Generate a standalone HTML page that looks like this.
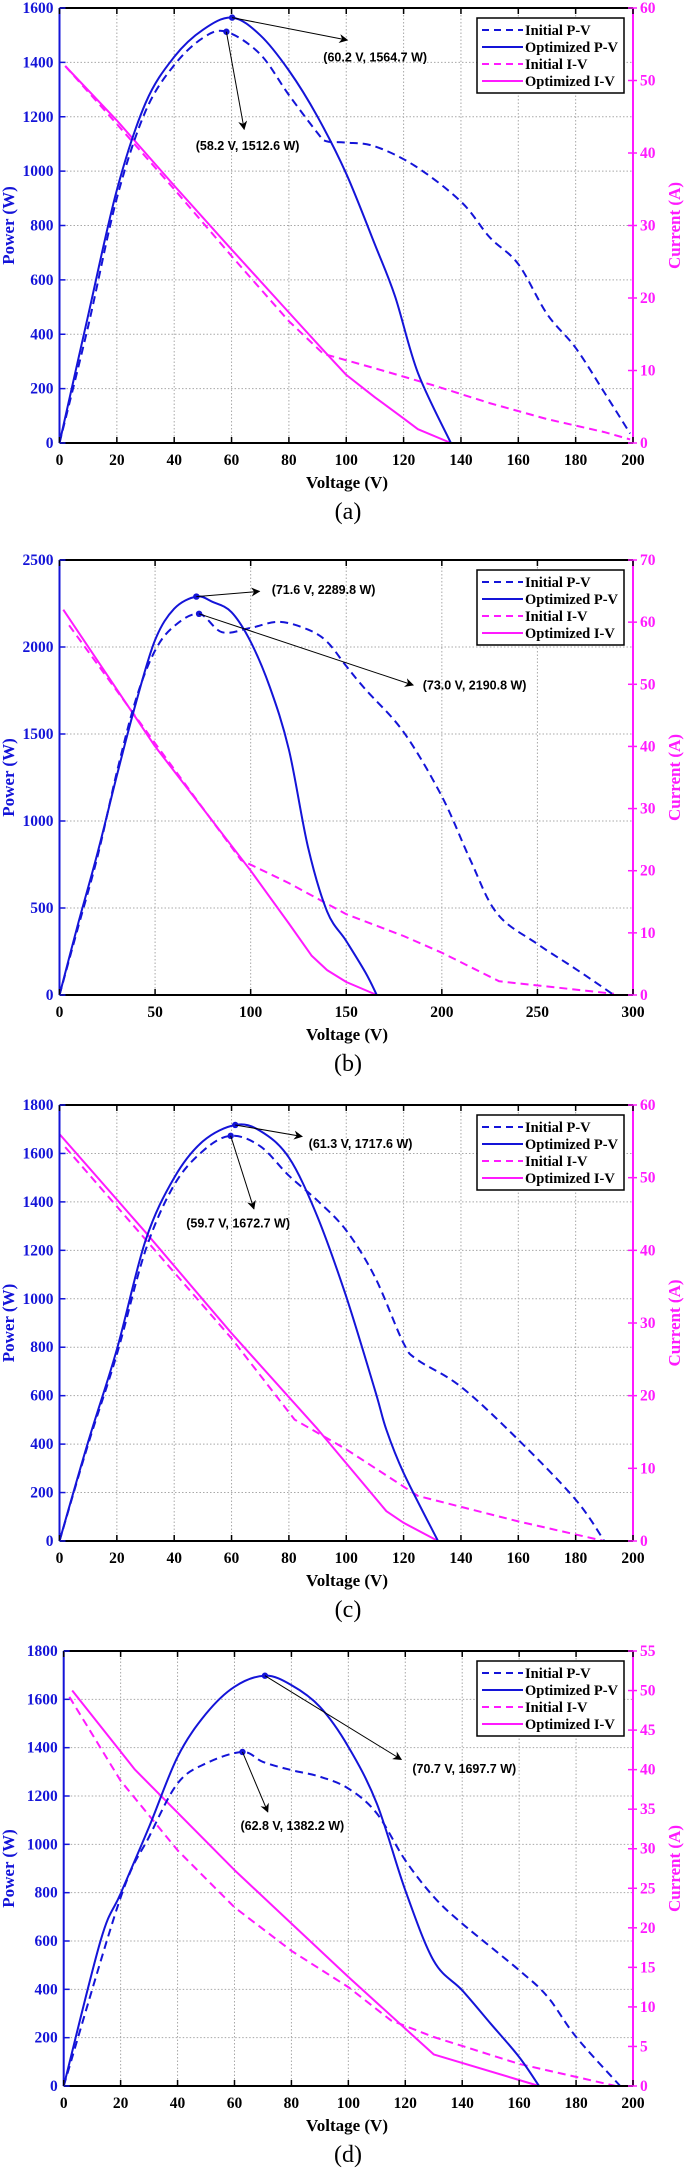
<!DOCTYPE html>
<html><head><meta charset="utf-8"><style>
html,body{margin:0;padding:0;background:#fff}
svg{display:block}
text{font-family:"Liberation Serif",serif}
</style></head><body>
<svg id="chart" width="685" height="2170" viewBox="0 0 685 2170" xmlns="http://www.w3.org/2000/svg"></svg>
<script>
// ---- Panel (a) data ----
const aOptPV_V=[0,10,20,30,40,50,60.2,70,80,90,100,110,117,125,136.5];
const aOptPV_P=[0,470,930,1250,1420,1520,1564.7,1500,1370,1200,990,730,540,258,0];
const aInitPV_V=[0,10,20,30,40,50,58.2,70,80,90,93,100,110,124,140,150,160,170,180,190,199];
const aInitPV_P=[0,430,900,1220,1390,1490,1512.6,1430,1280,1140,1110,1105,1091,1019,888,757,658,475,350,186,35];
const aInitIV_V=[2,20,40,60,80,92,110,130,150,170,190,199];
const aInitIV_I=[52,44,35,25.8,16.8,12.3,10.3,8,5.5,3.3,1.5,0.5];
const aOptIV_V=[2,20,40,60,80,92,100,110,120,125,136.5];
const aOptIV_I=[52,44.5,35.5,26.7,18,12.8,9.4,6.3,3.4,1.9,0];
// ---- Panel (b) data ----
const bOptPV_V=[0,10,20,30,40,50,60,71.6,80,90,100,110,120,130,140,150,160,166];
const bOptPV_P=[0,420,820,1260,1680,2040,2220,2289.8,2260,2200,2030,1770,1410,850,480,310,130,0];
const bInitPV_V=[0,10,20,30,40,50,60,73,85,100,115,130,140,150,160,180,200,215,229,250,270,290];
const bInitPV_P=[0,400,800,1280,1700,1980,2120,2190.8,2085,2110,2145,2100,2030,1890,1757,1511,1142,774,467,293,150,0];
const bInitIV_V=[5,50,95,120,150,180,200,230,260,290];
const bInitIV_I=[59.5,40.5,21.7,18,13,9.5,6.8,2.2,1.2,0.2];
const bOptIV_V=[2,50,100,120,132,140,150,166];
const bOptIV_I=[62,40,20,11.5,6.3,4,2.1,0];
// ---- Panel (c) data ----
const cOptPV_V=[0,10,20,30,40,50,61.3,70,80,90,100,110,114,120,132];
const cOptPV_P=[0,410,790,1240,1500,1650,1717.6,1693,1583,1337,1008,624,459,281,0];
const cInitPV_V=[0,10,20,30,40,50,59.7,70,80,90,100,110,120,125,140,160,180,190];
const cInitPV_P=[0,400,770,1200,1470,1610,1672.7,1630,1508,1405,1282,1090,816,747,637,418,171,0];
const cOptIV_V=[0,30,60,90,114,120,132];
const cOptIV_I=[56,42.5,28.6,15.4,4.1,2.5,0];
const cInitIV_V=[2,60,82,100,125,160,190];
const cInitIV_I=[54.2,27.9,16.7,12.6,6.2,2.7,0];
// ---- Panel (d) data ----
const dOptPV_V=[0,13,20,30,40,50,60,70.7,80,90,100,110,120,130,140,150,160,167];
const dOptPV_P=[0,603,796,1072,1362,1540,1652,1697.7,1659,1569,1404,1169,810,518,396,258,120,0];
const dInitPV_V=[0,20,30,40,50,62.8,70,80,90,100,110,120,130,140,160,170,180,195.5];
const dInitPV_P=[0,780,1031,1252,1335,1382.2,1341,1307,1280,1231,1128,934,783,672,479,369,203,0];
const dOptIV_V=[3,25,60,100,130,167];
const dOptIV_I=[50,40,27.3,13.8,4.0,0];
const dInitIV_V=[2,20,40,60,80,100,115,130,160,194];
const dInitIV_I=[49.2,38.6,29.8,22.6,17.1,12.5,8.3,6.2,2.8,0];
// ---- axis tick arrays ----
const aXTicks=[0,20,40,60,80,100,120,140,160,180,200], aPTicks=[0,200,400,600,800,1000,1200,1400,1600], aITicks=[0,10,20,30,40,50,60];
const bXTicks=[0,50,100,150,200,250,300], bPTicks=[0,500,1000,1500,2000,2500], bITicks=[0,10,20,30,40,50,60,70];
const cXTicks=[0,20,40,60,80,100,120,140,160,180,200], cPTicks=[0,200,400,600,800,1000,1200,1400,1600,1800], cITicks=[0,10,20,30,40,50,60];
const dXTicks=[0,20,40,60,80,100,120,140,160,180,200], dPTicks=[0,200,400,600,800,1000,1200,1400,1600,1800], dITicks=[0,5,10,15,20,25,30,35,40,45,50,55];
// ---- annotation arrays: [peakV, peakP, arrowV, arrowP, textV, textP, label]
const aAnn=[[60.2,1564.7,100.4,1482,92,1419,"(60.2 V, 1564.7 W)"],[58.2,1512.6,64.4,1154,47.5,1094,"(58.2 V, 1512.6 W)"]];
const bAnn=[[71.6,2289.8,104.6,2320,111,2330,"(71.6 V, 2289.8 W)"],[73.0,2190.8,185,1781,190,1781,"(73.0 V, 2190.8 W)"]];
const cAnn=[[61.3,1717.6,84.6,1670,86.9,1642,"(61.3 V, 1717.6 W)"],[59.7,1672.7,67.8,1371,44.2,1312,"(59.7 V, 1672.7 W)"]];
const dAnn=[[70.7,1697.7,118.6,1351,122.5,1314,"(70.7 V, 1697.7 W)"],[62.8,1382.2,71.7,1134,62.1,1077,"(62.8 V, 1382.2 W)"]];

const NS="http://www.w3.org/2000/svg";
const svg=document.getElementById('chart');
const BLUE="#1414d8", MAG="#ff1aff";
function mk(tag,attrs,parent){const e=document.createElementNS(NS,tag);for(const k in attrs)e.setAttribute(k,attrs[k]);(parent||svg).appendChild(e);return e;}

const defs=mk('defs',{});
const mkr=mk('marker',{id:'arr',viewBox:'0 0 10 10',refX:'9',refY:'5',markerWidth:'9',markerHeight:'9',orient:'auto',markerUnits:'userSpaceOnUse'},defs);
mk('path',{d:'M0,0 L10,5 L0,10 L3,5 Z',fill:'#000'},mkr);

function smoothPath(P){
  let d='M'+P[0][0].toFixed(1)+','+P[0][1].toFixed(1);
  for(let i=0;i<P.length-1;i++){
    const p0=P[Math.max(0,i-1)],p1=P[i],p2=P[i+1],p3=P[Math.min(P.length-1,i+2)];
    const c1x=p1[0]+(p2[0]-p0[0])/6,c1y=p1[1]+(p2[1]-p0[1])/6;
    const c2x=p2[0]-(p3[0]-p1[0])/6,c2y=p2[1]-(p3[1]-p1[1])/6;
    d+=` C${c1x.toFixed(1)},${c1y.toFixed(1)} ${c2x.toFixed(1)},${c2y.toFixed(1)} ${p2[0].toFixed(1)},${p2[1].toFixed(1)}`;
  }
  return d;
}

function panel(cfg){
  const g=mk('g',{});
  
  
  const L=cfg.left,R=633,T=cfg.top,B=cfg.bottom;
  const x=v=>L+v/cfg.xmax*(R-L);
  const yP=p=>B-p/cfg.pmax*(B-T);
  const yI=i=>B-i/cfg.imax*(B-T);
  const grid=mk('g',{},g);
  
  
  cfg.xt.forEach(v=>{if(v>0&&v<cfg.xmax)mk('line',{x1:x(v),x2:x(v),y1:T,y2:B,stroke:'#a8a8a8','stroke-width':1,'stroke-dasharray':'1.5 2'},grid);});
  cfg.pt.forEach(p=>{if(p>0&&p<cfg.pmax)mk('line',{x1:L,x2:R,y1:yP(p),y2:yP(p),stroke:'#a8a8a8','stroke-width':1,'stroke-dasharray':'1.5 2'},grid);});
  function series(V,Y,yf,color,dash,name,smooth){
    const P=V.map((v,i)=>[x(v),yf(Y[i])]);
    const d=smooth?smoothPath(P):'M'+P.map(p=>p[0].toFixed(1)+','+p[1].toFixed(1)).join(' L');
    const pl=mk('path',{d:d,fill:'none',stroke:color,'stroke-width':2,'stroke-linejoin':'round'},g);
    if(dash)pl.setAttribute('stroke-dasharray','8 5');
    
    
  }
  series(cfg.iiV,cfg.iiI,yI,MAG,true,'initial-iv-line',false);
  series(cfg.oiV,cfg.oiI,yI,MAG,false,'optimized-iv-line',false);
  series(cfg.ipV,cfg.ipP,yP,BLUE,true,'initial-pv-line',true);
  series(cfg.opV,cfg.opP,yP,BLUE,false,'optimized-pv-line',true);
  cfg.ann.forEach((a,k)=>{
    const dot=mk('circle',{cx:x(a[0]),cy:yP(a[1]),r:3.2,fill:BLUE},g);
    
    
    const ln=mk('line',{x1:x(a[0]),y1:yP(a[1]),x2:x(a[2]),y2:yP(a[3]),stroke:'#000','stroke-width':1,'marker-end':'url(#arr)'},g);
    
    
    const t=mk('text',{x:x(a[4]),y:yP(a[5])+4.5,'font-size':12.5,'font-weight':'bold',fill:'#000',style:'font-family:"Liberation Sans",sans-serif'},g);
    t.textContent=a[6];
    
    
  });
  mk('line',{x1:L,x2:R,y1:T,y2:T,stroke:'#000','stroke-width':2},g);
  const xa=mk('line',{x1:L,x2:R,y1:B,y2:B,stroke:'#000','stroke-width':2},g);
  
  
  const la=mk('line',{x1:L,x2:L,y1:T,y2:B,stroke:BLUE,'stroke-width':2},g);
  
  
  const ra=mk('line',{x1:R,x2:R,y1:T,y2:B,stroke:MAG,'stroke-width':2},g);
  
  
  cfg.xt.forEach(v=>{
    mk('line',{x1:x(v),x2:x(v),y1:B,y2:B-6,stroke:'#000','stroke-width':1.5},g);
    mk('line',{x1:x(v),x2:x(v),y1:T,y2:T+6,stroke:'#000','stroke-width':1.5},g);
    const t=mk('text',{x:x(v),y:B+22,'text-anchor':'middle','font-size':15.5,'font-weight':'bold',fill:'#000'},g);
    t.textContent=v;
    
    
  });
  cfg.pt.forEach(p=>{
    mk('line',{x1:L,x2:L+6,y1:yP(p),y2:yP(p),stroke:BLUE,'stroke-width':1.5},g);
    const t=mk('text',{x:L-6,y:yP(p)+5,'text-anchor':'end','font-size':15.5,'font-weight':'bold',fill:BLUE},g);
    t.textContent=p;
    
    
  });
  cfg.it.forEach(i=>{
    mk('line',{x1:R-5,x2:R+4,y1:yI(i),y2:yI(i),stroke:MAG,'stroke-width':1.5},g);
    const t=mk('text',{x:R+7,y:yI(i)+5,'font-size':15.5,'font-weight':'bold',fill:MAG},g);
    t.textContent=i;
    
    
  });
  const xt=mk('text',{x:347,y:B+45,'text-anchor':'middle','font-size':17,'font-weight':'bold',fill:'#000'},g);
  xt.textContent='Voltage (V)';
  
  
  const cy=(T+B)/2;
  const pt=mk('text',{x:0,y:0,'text-anchor':'middle','font-size':17,'font-weight':'bold',fill:BLUE,transform:`translate(14,${cy}) rotate(-90)`},g);
  pt.textContent='Power (W)';
  
  
  const ct=mk('text',{x:0,y:0,'text-anchor':'middle','font-size':17,'font-weight':'bold',fill:MAG,transform:`translate(680,${cy}) rotate(-90)`},g);
  ct.textContent='Current (A)';
  
  
  const cap=mk('text',{x:348,y:B+76,'text-anchor':'middle','font-size':24,fill:'#000'},g);
  cap.textContent='('+cfg.id+')';
  
  
  const lg=mk('g',{},g);
  
  
  const lx=477,ly=T+10;
  mk('rect',{x:lx,y:ly,width:147,height:75,fill:'#fff',stroke:'#000','stroke-width':1.5},lg);
  const items=[['Initial P-V',BLUE,true],['Optimized P-V',BLUE,false],['Initial I-V',MAG,true],['Optimized I-V',MAG,false]];
  items.forEach((it,k)=>{
    const yy=ly+12+k*17;
    const l=mk('line',{x1:lx+5,x2:lx+46,y1:yy,y2:yy,stroke:it[1],'stroke-width':2},lg);
    if(it[2])l.setAttribute('stroke-dasharray','7 5');
    const t=mk('text',{x:lx+48,y:yy+5,'font-size':14.5,'font-weight':'bold',fill:'#000'},lg);
    t.textContent=it[0];
    
    
  });
}

panel({id:'a',left:59.5,top:8,bottom:443,xmax:200,pmax:1600,imax:60,xt:aXTicks,pt:aPTicks,it:aITicks,
  opV:aOptPV_V,opP:aOptPV_P,ipV:aInitPV_V,ipP:aInitPV_P,iiV:aInitIV_V,iiI:aInitIV_I,oiV:aOptIV_V,oiI:aOptIV_I,ann:aAnn});
panel({id:'b',left:59.5,top:560,bottom:995,xmax:300,pmax:2500,imax:70,xt:bXTicks,pt:bPTicks,it:bITicks,
  opV:bOptPV_V,opP:bOptPV_P,ipV:bInitPV_V,ipP:bInitPV_P,iiV:bInitIV_V,iiI:bInitIV_I,oiV:bOptIV_V,oiI:bOptIV_I,ann:bAnn});
panel({id:'c',left:59.5,top:1105,bottom:1541,xmax:200,pmax:1800,imax:60,xt:cXTicks,pt:cPTicks,it:cITicks,
  opV:cOptPV_V,opP:cOptPV_P,ipV:cInitPV_V,ipP:cInitPV_P,iiV:cInitIV_V,iiI:cInitIV_I,oiV:cOptIV_V,oiI:cOptIV_I,ann:cAnn});
panel({id:'d',left:63.7,top:1651,bottom:2086,xmax:200,pmax:1800,imax:55,xt:dXTicks,pt:dPTicks,it:dITicks,
  opV:dOptPV_V,opP:dOptPV_P,ipV:dInitPV_V,ipP:dInitPV_P,iiV:dInitIV_V,iiI:dInitIV_I,oiV:dOptIV_V,oiI:dOptIV_I,ann:dAnn});
</script>
</body></html>
